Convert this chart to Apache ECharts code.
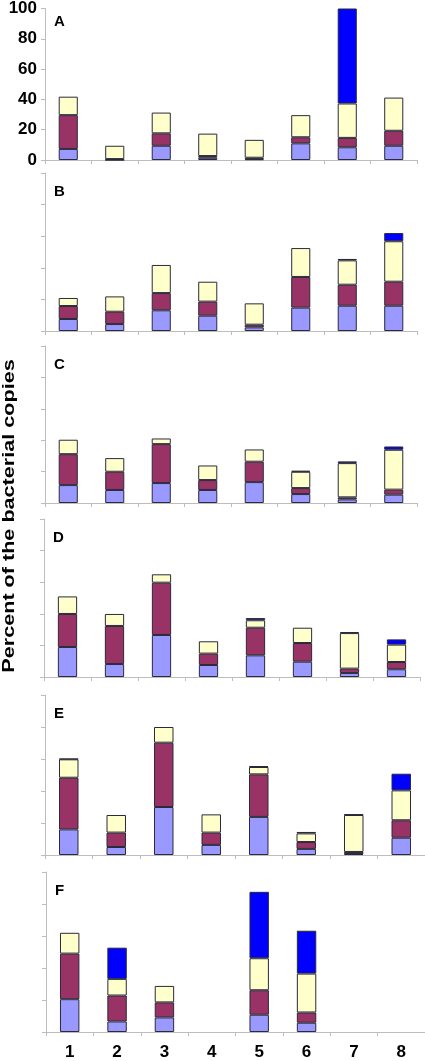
<!DOCTYPE html>
<html>
<head>
<meta charset="utf-8">
<script src="https://cdn.jsdelivr.net/npm/echarts@6/dist/echarts.min.js"></script>
<style>
html,body{margin:0;padding:0;background:#fff;}
#c{width:425px;height:1061px;}
</style>
</head>
<body>
<div id="c"></div>
<script>
const categories = ['1','2','3','4','5','6','7','8'];
const panelLetters = ['A','B','C','D','E','F'];
const yTicks = [0,20,40,60,80,100];
const seriesNames = ['light purple','maroon','light yellow','blue'];
const seriesColors = ['#9999ff','#993366','#ffffcc','#0000ff'];

const A_purple = [7.3, 0, 9.4, 1.5, 0.5, 11, 8.4, 9.4];
const A_maroon = [22.3, 0.6, 8.2, 1.1, 1, 4, 6.2, 9.9];
const A_yellow = [12.2, 8.8, 13.7, 14.8, 11.8, 14.6, 22.7, 21.9];
const A_blue   = [null, null, null, null, null, null, 62.7, null];

const B_purple = [7.6, 4.4, 13.1, 9.7, 2.3, 14.8, 16, 16];
const B_maroon = [8.2, 7.8, 10.9, 8.9, 1.7, 19.4, 13.3, 15.2];
const B_yellow = [5.1, 9.7, 17.8, 12.6, 13.5, 18.3, 15.4, 25.6];
const B_blue   = [null, null, null, null, null, null, 0.9, 5.2];

const C_purple = [11.4, 8.3, 12.7, 8.3, 13.3, 5.7, 2.3, 5.3];
const C_maroon = [19.7, 11.6, 24.8, 6.3, 13, 3.8, 1.3, 3.2];
const C_yellow = [9.2, 8.7, 3.6, 9.3, 7.8, 10.4, 21.8, 25.4];
const C_blue   = [null, null, null, null, null, 0.6, 1.1, 2.1];

const D_purple = [19, 8.2, 26.6, 7.6, 13.7, 9.7, 2.5, 4.9];
const D_maroon = [20.9, 24.1, 33.1, 7.2, 17.5, 11.8, 2.8, 4.6];
const D_yellow = [11.1, 7.6, 5.3, 7.8, 4.7, 9.7, 22.5, 11];
const D_blue   = [null, null, null, null, 1.4, null, 0.6, 3.3];

const E_purple = [16, 5, 30, 6.3, 23.8, 3.8, 0.6, 10.8];
const E_maroon = [32.3, 9, 40.2, 7.7, 26.6, 4.3, 1.3, 10.9];
const E_yellow = [11.5, 11, 9.8, 11.4, 4.6, 5.4, 23.1, 18.7];
const E_blue   = [0.4, null, null, null, 0.6, 0.9, 0.4, 10.4];

const F_purple = [20.5, 6.6, 9.1, null, 10.8, 5.8, null, null];
const F_maroon = [28.5, 16.2, 9.4, null, 15.3, 6.4, null, null];
const F_yellow = [13, 10.4, 10.3, null, 20, 24.3, null, null];
const F_blue   = [null, 19.5, null, null, 41.5, 26.8, null, null];

const panelData = [
  [A_purple, A_maroon, A_yellow, A_blue],
  [B_purple, B_maroon, B_yellow, B_blue],
  [C_purple, C_maroon, C_yellow, C_blue],
  [D_purple, D_maroon, D_yellow, D_blue],
  [E_purple, E_maroon, E_yellow, E_blue],
  [F_purple, F_maroon, F_yellow, F_blue]
];

const gridBoxes = [
  {left: 45, top: 3, width: 372, height: 157},
  {left: 45, top: 173, width: 372, height: 158},
  {left: 45, top: 346, width: 372, height: 157},
  {left: 44, top: 519, width: 376, height: 158},
  {left: 45, top: 695, width: 380, height: 160},
  {left: 46, top: 872, width: 379, height: 161}
];

const axisGrey = '#bdbdbd';
const labelFont = '"Liberation Sans Narrow", "Liberation Sans", Arial, sans-serif';

const grids = [], xAxes = [], yAxes = [], series = [], graphics = [];
gridBoxes.forEach((g, i) => {
  grids.push(Object.assign({containLabel: false}, g));
  xAxes.push({
    type: 'category', gridIndex: i, data: categories,
    boundaryGap: true,
    axisLine: {lineStyle: {color: axisGrey, width: 1}},
    axisTick: {show: true, inside: false, length: 4, alignWithLabel: false, lineStyle: {color: axisGrey}},
    axisLabel: {show: i === 5, color: '#000', fontWeight: 'bold', fontSize: 17, fontFamily: labelFont, margin: 12},
    splitLine: {show: false}
  });
  yAxes.push({
    type: 'value', gridIndex: i, min: 0, max: 100, interval: 20,
    axisLine: {show: true, lineStyle: {color: axisGrey, width: 1}},
    axisTick: {show: true, inside: false, length: 4, lineStyle: {color: axisGrey}},
    axisLabel: {show: i === 0, color: '#000', fontWeight: 'bold', fontSize: 17, fontFamily: labelFont, margin: 8,
      formatter: v => yTicks.indexOf(v) >= 0 ? String(v) : ''},
    splitLine: {show: false}
  });
  panelData[i].forEach((arr, k) => {
    series.push({
      type: 'bar', name: seriesNames[k], xAxisIndex: i, yAxisIndex: i,
      stack: 'p' + i, data: arr, barWidth: '41%',
      itemStyle: {color: seriesColors[k], borderColor: '#2a2a3a', borderWidth: 1},
      emphasis: {disabled: true}, silent: true, animation: false
    });
  });
  graphics.push({
    type: 'text', left: g.left + 9, top: g.top + 11,
    style: {text: panelLetters[i], font: 'bold 15px "Liberation Sans", Arial, sans-serif', fill: '#000'}
  });
});

graphics.push({
  type: 'text', x: 10, y: 516, rotation: Math.PI / 2, scaleX: 1.35, scaleY: 1,
  style: {text: 'Percent of the bacterial copies', font: 'bold 16px "Liberation Sans", Arial, sans-serif',
    fill: '#000', align: 'center', verticalAlign: 'middle'}
});

const chart = echarts.init(document.getElementById('c'), null, {renderer: 'canvas'});
chart.setOption({
  animation: false,
  grid: grids, xAxis: xAxes, yAxis: yAxes, series: series, graphic: graphics
});
</script>
</body>
</html>
